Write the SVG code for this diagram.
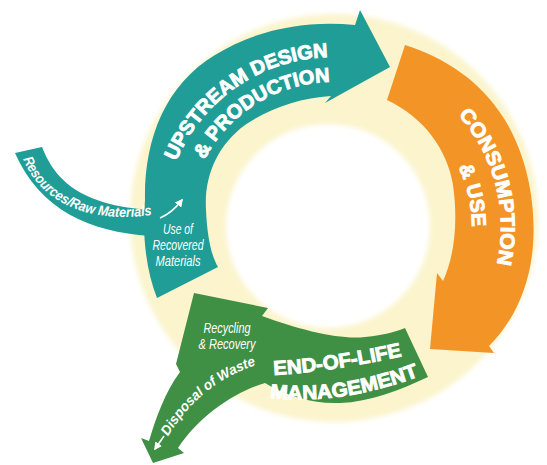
<svg xmlns="http://www.w3.org/2000/svg" width="547" height="465" viewBox="0 0 547 465">
<defs>
<style>
.main{font-family:"Liberation Sans",Arial,sans-serif;font-weight:bold;font-size:20px;fill:#fff;stroke:#fff;stroke-width:0.9}
.mid{text-anchor:middle}
.it{font-family:"Liberation Sans",Arial,sans-serif;font-style:italic;font-size:15px;fill:#fff}
.itb{font-family:"Liberation Sans",Arial,sans-serif;font-style:italic;font-weight:bold;font-size:14px;fill:#fff}
.teal{fill:#1F9D96}
.orange{fill:#F39426}
.green{fill:#3F8F45}
.conn{fill:none;stroke:#fff;stroke-width:1.6}
</style>
<filter id="soft" x="-10%" y="-10%" width="120%" height="120%"><feGaussianBlur stdDeviation="2.5"/></filter>
<marker id="ah" viewBox="0 0 10 10" refX="8" refY="5" markerWidth="5" markerHeight="5" orient="auto"><path d="M0,0 L10,5 L0,10 Z" fill="#fff"/></marker>
<path id="pUp1" d="M169.2,181.6 A170,170 0 0 1 349.3,57.8"/>
<path id="pUp2" d="M195.2,181.7 A145,145 0 0 1 353.7,83.5"/>
<path id="pCon1" d="M458.2,115 A168,168 0 0 1 490.9,284.5"/>
<path id="pCon2" d="M458.3,166.9 A139,139 0 0 1 463.6,274.5"/>
<path id="pEol1" d="M274,375 Q333,372 412,354"/>
<path id="pEol2" d="M270,398 Q345,406 430,372"/>
<path id="pDisp" d="M166,440 Q200,380 266,362"/>
<path id="pRes" d="M22,156 C38,200 85,226 158,214"/>
</defs>
<rect width="547" height="465" fill="#fff"/>
<g id="ring">
<path d="M334,14 A204,204 0 1 1 333.9,14 Z M328,124 A102,102 0 1 0 328.1,124 Z" fill="#FBF4CC" fill-rule="evenodd" filter="url(#soft)"/>
</g>
<g id="end-of-life">
<path class="green" d="M194,293 L268,308 L262,316 C300,330 340,340 365,337 C385,335 395,332 405,328 L428,377 C400,390 370,402 340,403 C310,404 285,395 265,383 C235,392 200,415 178,448 L184,453 L153,463 L141,438 L149,441 C156,418 165,392 180,372 L176,364 Z"/>
<text class="main"><textPath href="#pEol1" textLength="130" lengthAdjust="spacingAndGlyphs">END-OF-LIFE</textPath></text>
<text class="main"><textPath href="#pEol2" textLength="152" lengthAdjust="spacingAndGlyphs">MANAGEMENT</textPath></text>
<text class="it" x="227" y="333" text-anchor="middle" textLength="47" lengthAdjust="spacingAndGlyphs">Recycling</text>
<text class="it" x="227" y="349" text-anchor="middle" textLength="57" lengthAdjust="spacingAndGlyphs">&amp; Recovery</text>
<text class="itb"><textPath href="#pDisp" startOffset="4" textLength="116" lengthAdjust="spacingAndGlyphs">Disposal of Waste</textPath></text>
</g>
<g id="upstream">
<path class="teal" d="M157,298 C146,270 142,235 145,200 C144,140 165,85 215,55 C255,30 305,20 355,25 L360,10 L390,67 L325,103 L331,96 C300,98 270,108 245,125 C218,145 204,175 206,210 C207,235 211,255 218,267 Z"/>
<path class="teal" d="M15,153 L42,147 C55,180 80,205 150,210 L150,236 C90,232 40,210 15,153 Z"/>
<text class="main mid"><textPath href="#pUp1" startOffset="50%">UPSTREAM DESIGN</textPath></text>
<text class="main mid"><textPath href="#pUp2" startOffset="50%">&amp; PRODUCTION</textPath></text>
<text class="itb"><textPath href="#pRes" startOffset="3" textLength="152" lengthAdjust="spacingAndGlyphs">Resources/Raw Materials</textPath></text>
<text class="it" x="178" y="234" text-anchor="middle" textLength="30" lengthAdjust="spacingAndGlyphs">Use of</text>
<text class="it" x="178" y="250" text-anchor="middle" textLength="51" lengthAdjust="spacingAndGlyphs">Recovered</text>
<text class="it" x="178" y="266" text-anchor="middle" textLength="45" lengthAdjust="spacingAndGlyphs">Materials</text>
</g>
<g id="consumption">
<path class="orange" d="M405,45 C445,58 480,80 505,120 C528,158 536,205 533,245 C530,285 515,320 489,346 L494,353 L430,349 L437,273 L443,281 C455,255 458,220 453,185 C447,150 425,118 387,100 Z"/>
<text class="main"><textPath href="#pCon1" textLength="160" lengthAdjust="spacingAndGlyphs">CONSUMPTION</textPath></text>
<text class="main"><textPath href="#pCon2" textLength="62" lengthAdjust="spacingAndGlyphs">&amp; USE</textPath></text>
</g>
<g id="connectors">
<path class="conn" d="M160,218 Q172,213 182,200" marker-end="url(#ah)"/>
<path class="conn" d="M164,436 L155,449" marker-end="url(#ah)"/>
</g>
</svg>
